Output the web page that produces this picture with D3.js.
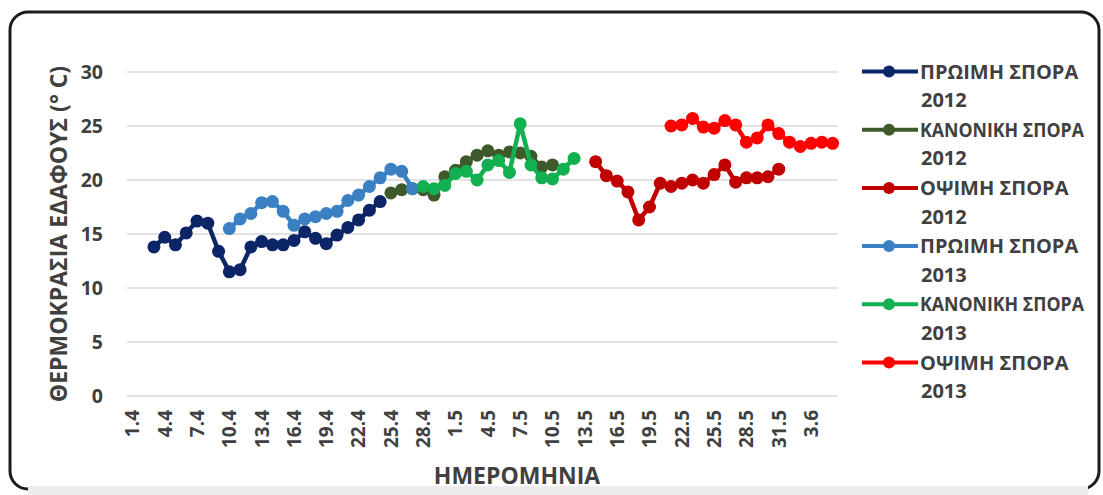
<!DOCTYPE html>
<html>
<head>
<meta charset="utf-8">
<script src="https://cdn.jsdelivr.net/npm/d3@7"></script>
<style>
  html, body { margin: 0; padding: 0; background: #ffffff; }
  svg { display: block; }
  text { font-family: "Open Sans", "Noto Sans", sans-serif; font-weight: 700; fill: #404040; }
</style>
</head>
<body>
<svg id="chart" width="1103" height="495"></svg>
<script>
// ---------- DATA ----------
const categories = [
  "1.4","2.4","3.4","4.4","5.4","6.4","7.4","8.4","9.4","10.4",
  "11.4","12.4","13.4","14.4","15.4","16.4","17.4","18.4","19.4","20.4",
  "21.4","22.4","23.4","24.4","25.4","26.4","27.4","28.4","29.4","30.4",
  "1.5","2.5","3.5","4.5","5.5","6.5","7.5","8.5","9.5","10.5",
  "11.5","12.5","13.5","14.5","15.5","16.5","17.5","18.5","19.5","20.5",
  "21.5","22.5","23.5","24.5","25.5","26.5","27.5","28.5","29.5","30.5",
  "31.5","1.6","2.6","3.6","4.6","5.6"
];
const tickLabels = ["1.4","4.4","7.4","10.4","13.4","16.4","19.4","22.4","25.4","28.4",
  "1.5","4.5","7.5","10.5","13.5","16.5","19.5","22.5","25.5","28.5","31.5","3.6"];
const yTicks = [0, 5, 10, 15, 20, 25, 30];

const seriesNames = ["ΠΡΩΙΜΗ ΣΠΟΡΑ 2012","ΚΑΝΟΝΙΚΗ ΣΠΟΡΑ 2012","ΟΨΙΜΗ ΣΠΟΡΑ 2012",
                     "ΠΡΩΙΜΗ ΣΠΟΡΑ 2013","ΚΑΝΟΝΙΚΗ ΣΠΟΡΑ 2013","ΟΨΙΜΗ ΣΠΟΡΑ 2013"];
const seriesStart = ["3.4","25.4","14.5","10.4","28.4","21.5"];

const early2012  = [13.8,14.7,14.0,15.1,16.2,16.0,13.4,11.5,11.7,13.8,14.3,14.0,14.0,14.4,15.2,14.6,14.1,14.9,15.6,16.3,17.2,18.0];
const normal2012 = [18.8,19.1,19.2,19.1,18.6,20.3,20.9,21.7,22.3,22.7,22.3,22.6,22.5,22.2,21.2,21.4];
const late2012   = [21.7,20.4,19.9,18.9,16.3,17.5,19.7,19.4,19.7,20.0,19.7,20.5,21.4,19.8,20.2,20.2,20.3,21.0];
const early2013  = [15.5,16.4,16.9,17.9,18.0,17.1,15.8,16.4,16.6,16.9,17.1,18.1,18.6,19.4,20.2,21.0,20.8,19.2];
const normal2013 = [19.4,19.2,19.5,20.6,20.8,20.0,21.4,21.8,20.7,25.2,21.4,20.2,20.1,21.0,22.0];
const late2013   = [25.0,25.1,25.7,24.9,24.8,25.5,25.1,23.5,23.9,25.1,24.3,23.5,23.1,23.4,23.5,23.4];

const seriesValues = [early2012, normal2012, late2012, early2013, normal2013, late2013];
const seriesColors = ["#0c2566","#3e5a2a","#c00000","#3a80c2","#12b050","#ff0000"];

const yTitle = "ΘΕΡΜΟΚΡΑΣΙΑ ΕΔΑΦΟΥΣ (° C)";
const xTitle = "ΗΜΕΡΟΜΗΝΙΑ";

// ---------- DRAW ----------
const svg = d3.select("#chart");

// frame
svg.append("rect")
  .attr("x", 10).attr("y", 12).attr("width", 1089).attr("height", 477)
  .attr("rx", 18).attr("ry", 18)
  .attr("fill", "#ffffff").attr("stroke", "#1c1c1c").attr("stroke-width", 3);
svg.append("rect")
  .attr("x", 28).attr("y", 486).attr("width", 1060).attr("height", 9)
  .attr("fill", "#ececec");

const x = d3.scaleBand().domain(categories).range([127, 838]);
const y = d3.scaleLinear().domain([0, 30]).range([396, 72]);
const cx = d => x(d) + x.bandwidth() / 2;

// gridlines
svg.append("g").selectAll("line").data(yTicks).join("line")
  .attr("x1", 127).attr("x2", 838)
  .attr("y1", d => y(d)).attr("y2", d => y(d))
  .attr("stroke", "#d9d9d9").attr("stroke-width", 1.6);

// y axis labels
const yAxis = svg.append("g").attr("transform", "translate(103,0)")
  .call(d3.axisLeft(y).tickValues(yTicks).tickSize(0).tickPadding(0));
yAxis.select(".domain").remove();
yAxis.selectAll("text").attr("font-size", 19.5).attr("font-family", null).attr("fill", "#404040");

// x axis labels
const xAxis = svg.append("g").attr("transform", "translate(0,396)")
  .call(d3.axisBottom(x).tickValues(tickLabels).tickSize(0));
xAxis.select(".domain").remove();
xAxis.selectAll("text")
  .attr("font-size", 19).attr("font-family", null).attr("fill", "#404040")
  .attr("transform", "rotate(-90)")
  .attr("text-anchor", "end")
  .attr("x", -14).attr("y", 0).attr("dy", "0.36em");

// titles
svg.append("text")
  .attr("transform", "translate(67,234) rotate(-90)")
  .attr("text-anchor", "middle").attr("font-size", 23)
  .text(yTitle);
svg.append("text")
  .attr("x", 517).attr("y", 484).attr("text-anchor", "middle")
  .attr("font-size", 23).text(xTitle);

// series
const line = d3.line().x(d => cx(d.c)).y(d => y(d.v));
seriesValues.forEach((vals, k) => {
  const start = categories.indexOf(seriesStart[k]);
  const pts = vals.map((v, i) => ({ c: categories[start + i], v }));
  const g = svg.append("g");
  g.append("path").datum(pts)
    .attr("d", line).attr("fill", "none")
    .attr("stroke", seriesColors[k]).attr("stroke-width", 4.5)
    .attr("stroke-linejoin", "round");
  g.selectAll("circle").data(pts).join("circle")
    .attr("cx", d => cx(d.c)).attr("cy", d => y(d.v))
    .attr("r", 6.5).attr("fill", seriesColors[k]);
});

// legend
const legend = svg.append("g");
seriesNames.forEach((name, k) => {
  const ly = 71.5 + k * 58.2;
  const g = legend.append("g");
  g.append("line").attr("x1", 862).attr("x2", 918).attr("y1", ly).attr("y2", ly)
    .attr("stroke", seriesColors[k]).attr("stroke-width", 4);
  g.append("circle").attr("cx", 889).attr("cy", ly).attr("r", 6).attr("fill", seriesColors[k]);
  const parts = name.split(" ");
  const line1 = parts.slice(0, 2).join(" ");
  const line2 = parts[2];
  const t1 = g.append("text").attr("x", 920).attr("y", ly).attr("dy", "0.36em")
    .attr("font-size", 20).text(line1);
  const w = t1.node().getComputedTextLength();
  if (920 + w > 1084) {
    t1.attr("font-size", 19).attr("textLength", 1084 - 920).attr("lengthAdjust", "spacingAndGlyphs");
  }
  g.append("text").attr("x", 921).attr("y", ly + 28.5).attr("dy", "0.36em")
    .attr("font-size", 20).text(line2);
});
</script>
</body>
</html>
